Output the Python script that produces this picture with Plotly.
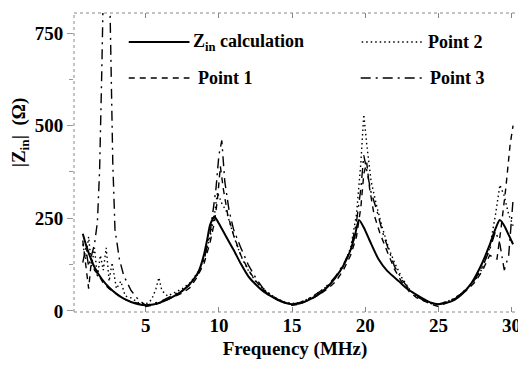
import plotly.graph_objects as go

# ---- data ----
calc_f = [0.7, 1.0, 1.5, 2.0, 2.5, 3.0, 3.5, 4.0, 4.5, 5.0, 5.5, 6.0, 6.5, 7.0, 7.5, 8.0, 8.5, 8.7, 9.0, 9.2, 9.4, 9.7,
          10.0, 10.5, 11.0, 11.5, 12.0, 12.5, 13.0, 13.5, 14.0, 14.5, 15.0, 15.5, 16.0, 16.5, 17.0, 17.5, 18.0,
          18.5, 19.0, 19.3, 19.57, 19.9, 20.3, 20.9, 21.5, 22.3, 22.8, 23.4, 24.0, 24.5, 25.0, 25.5, 26.1, 26.6,
          27.26, 27.6, 28.0, 28.5, 28.9, 29.19, 29.5, 29.8, 30.1]
calc_z = [208, 168, 118, 86, 63, 46, 33, 24, 18, 15, 17, 23, 31, 41, 54, 72, 98, 115, 155, 192, 232, 254,
          236, 200, 165, 127, 94, 72, 54, 41, 30, 22, 18, 20, 27, 37, 50, 68, 92,
          122, 165, 205, 245, 225, 190, 140, 108, 80, 62, 46, 32, 22, 18, 21, 30, 45,
          75, 98, 130, 178, 222, 245, 230, 205, 180]

p1_f = [0.7, 0.9, 1.1, 1.3, 1.5, 1.8, 2.1, 2.5, 3.0, 3.5, 4.0, 4.5, 5.0, 5.5, 6.0, 6.5, 7.0, 7.5, 8.0, 8.5, 9.0,
        9.4, 9.7, 9.9, 10.1, 10.3, 10.6, 11.0, 11.5, 12.0, 12.5, 13.0, 13.5, 14.0, 14.5, 15.0, 15.5, 16.0,
        16.5, 17.0, 17.5, 18.0, 18.5, 19.0, 19.4, 19.7, 19.9, 20.1, 20.3, 20.6, 21.0, 21.5, 22.0, 22.5, 23.0,
        23.5, 24.0, 24.5, 25.0, 25.5, 26.0, 26.5, 27.0, 27.5, 28.0, 28.5, 29.0, 29.3, 29.6, 29.9, 30.1]
p1_z = [190, 120, 60, 140, 110, 95, 75, 60, 45, 32, 25, 20, 12, 15, 22, 30, 38, 48, 62, 90, 130,
        185, 240, 300, 390, 330, 260, 205, 150, 112, 82, 58, 42, 30, 22, 15, 18, 26,
        36, 48, 62, 80, 110, 150, 200, 280, 370, 400, 330, 260, 210, 160, 112, 78, 52,
        36, 26, 18, 12, 20, 30, 42, 58, 78, 108, 150, 140, 230, 330, 450, 500]

p2_f = [0.7, 0.9, 1.1, 1.3, 1.5, 1.7, 1.9, 2.1, 2.3, 2.5, 2.7, 3.0, 3.3, 3.6, 4.0, 4.5, 5.0, 5.4, 5.7, 5.9, 6.1,
        6.5, 7.0, 7.5, 8.0, 8.5, 9.0, 9.4, 9.7, 9.9, 10.2, 10.5, 10.8, 11.2, 11.6, 12.0, 12.5, 13.0, 13.5,
        14.0, 14.5, 15.0, 15.5, 16.0, 16.5, 17.0, 17.5, 18.0, 18.5, 19.0, 19.4, 19.7, 19.9, 20.1, 20.4, 20.8,
        21.2, 21.6, 22.0, 22.5, 23.0, 23.5, 24.0, 24.5, 25.0, 25.5, 26.0, 26.5, 27.0, 27.5, 28.0, 28.5, 28.9,
        29.2, 29.5, 29.8, 30.1]
p2_z = [180, 140, 200, 120, 170, 90, 150, 110, 170, 80, 130, 60, 80, 40, 35, 22, 18, 30, 60, 90, 55,
        40, 50, 60, 75, 100, 140, 200, 260, 320, 290, 270, 230, 180, 140, 110, 80, 60, 45,
        32, 24, 20, 22, 30, 40, 55, 70, 90, 120, 170, 260, 400, 530, 450, 350, 280,
        220, 170, 130, 90, 60, 40, 28, 20, 18, 24, 32, 45, 62, 82, 115, 170, 260,
        340, 310, 260, 230]

p3_f = [0.7, 0.9, 1.1, 1.3, 1.5, 1.7, 1.85, 2.0, 2.1, 2.25, 2.4, 2.5, 2.6, 2.75, 2.9, 3.2, 3.5, 4.0, 4.5, 5.0,
        5.5, 6.0, 6.5, 7.0, 7.5, 8.0, 8.5, 9.0, 9.4, 9.8, 10.0, 10.2, 10.4, 10.7, 11.0, 11.5, 12.0, 12.5,
        13.0, 13.5, 14.0, 14.5, 15.0, 15.5, 16.0, 16.5, 17.0, 17.5, 18.0, 18.5, 19.0, 19.4, 19.7, 19.9, 20.1,
        20.4, 20.8, 21.2, 21.6, 22.0, 22.5, 23.0, 23.5, 24.0, 24.5, 25.0, 25.5, 26.0, 26.5, 27.0, 27.5, 28.0,
        28.5, 28.9, 29.2, 29.5, 29.8, 30.1]
p3_z = [130, 170, 120, 150, 180, 240, 380, 650, 900, 1500, 1500, 950, 700, 400, 220, 140, 95, 55, 30, 15,
        20, 25, 35, 45, 55, 70, 95, 140, 210, 330, 420, 460, 350, 270, 220, 170, 125, 90,
        62, 45, 32, 22, 18, 22, 30, 42, 55, 72, 95, 125, 165, 240, 330, 420, 380,
        320, 270, 210, 165, 120, 85, 58, 40, 28, 20, 18, 24, 32, 45, 62, 85, 118,
        165, 215, 180, 110, 150, 300]

x_ticks = [5, 10, 15, 20, 25, 30]
y_ticks = [0, 250, 500, 750]

FONT = "Liberation Serif, Times New Roman, serif"

fig = go.Figure()
fig.add_trace(go.Scatter(x=p1_f, y=p1_z, mode="lines", line=dict(color="black", width=1.4, dash="6px,5px"),
                         name="Point 1", showlegend=False))
fig.add_trace(go.Scatter(x=p2_f, y=p2_z, mode="lines", line=dict(color="black", width=1.4, dash="1.5px,3px"),
                         name="Point 2", showlegend=False))
fig.add_trace(go.Scatter(x=p3_f, y=p3_z, mode="lines", line=dict(color="black", width=1.4, dash="10px,5px,2px,5px"),
                         name="Point 3", showlegend=False))
fig.add_trace(go.Scatter(x=calc_f, y=calc_z, mode="lines", line=dict(color="black", width=2, shape="spline", smoothing=0.6),
                         name="Zin calculation", showlegend=False))

# page has an 8px body margin; plot area in page pixels:
OFF = 8
L, R, T, B = 74, 518, 13, 312
def px(x):
    return (x - L) / (R - L)
def py(y):
    return (B - y) / (B - T)

legend_items = [
    (129, 190, 42, "solid", 2, "Z<sub>in</sub> calculation", 192),
    (363, 425, 42, "1.5px,3px", 1.4, "Point 2", 428),
    (129, 190, 78, "6px,5px", 1.4, "Point 1", 197),
    (362, 425, 78, "10px,5px,2px,5px", 1.4, "Point 3", 430),
]
shapes = []
annotations = []
for x0, x1, yy, dash, w, label, tx in legend_items:
    shapes.append(dict(type="line", xref="paper", yref="paper", x0=px(x0), x1=px(x1), y0=py(yy), y1=py(yy),
                       line=dict(color="black", width=w, dash=dash)))
    annotations.append(dict(xref="paper", yref="paper", x=px(tx), y=py(yy), xanchor="left", yanchor="middle",
                            text="<b>" + label + "</b>", showarrow=False,
                            font=dict(family=FONT, size=18, color="black")))

# dotted frame
for (x0, y0, x1, y1) in [(0, 0, 0, 1), (0, 1, 1, 1), (0, 0, 1, 0)]:
    shapes.append(dict(type="line", xref="paper", yref="paper", x0=x0, y0=y0, x1=x1, y1=y1,
                       line=dict(color="#888", width=1, dash="dot")))

annotations.append(dict(xref="paper", yref="paper", x=px(20), y=py(132), xanchor="center",
                        yanchor="middle", textangle=-90, showarrow=False,
                        text="<b>|Z<sub>in</sub>|  (Ω)</b>",
                        font=dict(family=FONT, size=19, color="black")))

fig.update_layout(
    width=526 - OFF, height=369 - OFF,
    margin=dict(l=L - OFF, r=526 - R, t=T - OFF, b=369 - B),
    paper_bgcolor="white", plot_bgcolor="white",
    shapes=shapes, annotations=annotations,
    xaxis=dict(range=[0.1, 30.3], tickvals=x_ticks, ticktext=["<b>%d</b>" % v for v in x_ticks],
               showgrid=False, zeroline=False, showline=False,
               ticks="inside", ticklen=5, tickcolor="#888", mirror="ticks",
               tickfont=dict(family=FONT, size=19, color="black"),
               title=dict(text="<b>Frequency (MHz)</b>", standoff=6,
                          font=dict(family=FONT, size=19, color="black"))),
    yaxis=dict(range=[-3, 804], tickvals=y_ticks, ticktext=["<b>%d</b>" % v for v in y_ticks],
               showgrid=False, zeroline=False, showline=False,
               ticks="outside", ticklen=6, tickcolor="#999",
               minor=dict(tickvals=[125, 375, 625], ticks="outside", ticklen=4, tickcolor="#999"),
               tickfont=dict(family=FONT, size=19, color="black")),
)

fig.write_html("out.html")
